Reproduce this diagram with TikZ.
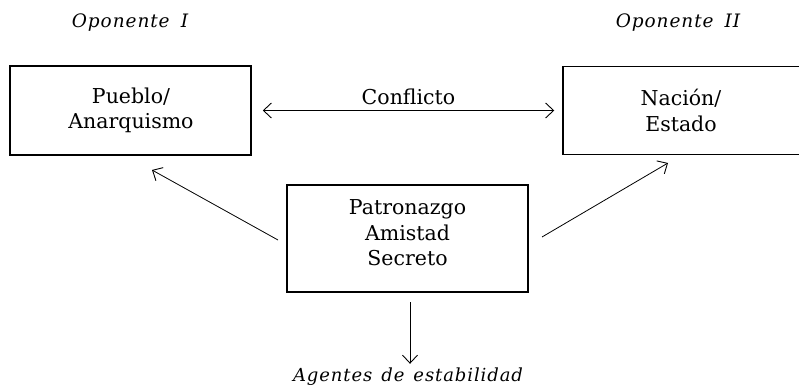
\documentclass[tikz,border=0pt]{standalone}
\usepackage{fontspec}
\setmainfont{DejaVu Serif}
\usetikzlibrary{arrows.meta,calc}
\begin{document}
\begin{tikzpicture}[x=1pt,y=-1pt,
  box/.style={draw, line width=1.5pt, inner sep=0pt},
  boxtext/.style={align=center, inner sep=0pt, font=\fontsize{20.5}{25.5}\selectfont},
  tip/.tip={Straight Barb[length=8pt,width=15pt,line width=0.9pt]},
  conn/.style={line width=0.8pt, -tip},
  lbl/.style={font=\fontsize{20.5}{25}\selectfont},
  ital/.style={anchor=base, font=\fontsize{18.5}{22}\selectfont\itshape\addfontfeature{LetterSpace=5}}]
\useasboundingbox (0,0) rectangle (799,387);
\node[box, minimum width=241pt, minimum height=89pt] (pueblo) at (130.5,110.5) {};
\node[boxtext] (pueblotxt) at (131,110.5) {Pueblo/\\Anarquismo};
\node[box, minimum width=238pt, minimum height=88pt] (nacion) at (682,110.5) {};
\node[boxtext] (naciontxt) at (681,110.5) {Nación/\\Estado};
\node[box, minimum width=241pt, minimum height=107pt] (centro) at (407.5,238.5) {};
\node[boxtext] (centrotxt) at (407.5,233) {Patronazgo\\Amistad\\Secreto};
\node[ital] (op1) at (130,28) {Oponente\hspace{0.6em}I};
\node[ital] (op2) at (678,28) {Oponente\hspace{0.6em}II};
\node[ital, font=\fontsize{18}{22}\selectfont\itshape\addfontfeature{LetterSpace=5}] (agentes) at (408,381) {Agentes\hspace{0.5em}de\hspace{0.5em}estabilidad};
\draw[line width=0.8pt, tip-tip]
  ([xshift=11pt]pueblo.east) -- node[lbl, above=1.5pt] (confl) {Conflicto} ([xshift=-8pt]nacion.west);
\coordinate (ls) at (278,240);
\coordinate (lt) at (152,170);
\coordinate (rs) at (542,237);
\coordinate (rt) at (668,163);
\draw[conn] (ls) -- (lt);
\draw[conn] (rs) -- (rt);
\coordinate (ds) at (410,302);
\draw[conn] (ds) -- (agentes.north -| ds);
\end{tikzpicture}
\end{document}
